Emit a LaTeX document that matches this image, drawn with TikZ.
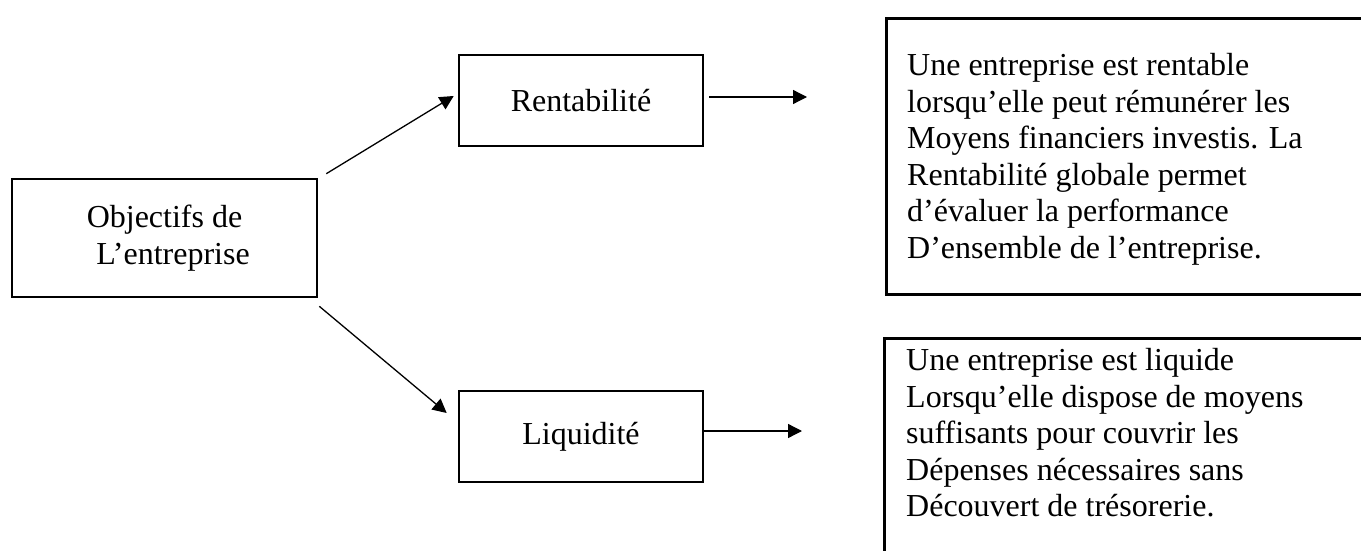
\documentclass[tikz,border=0pt]{standalone}
\usepackage{fontspec}
\setmainfont{Liberation Serif}
\usetikzlibrary{arrows.meta}
\begin{document}
\begin{tikzpicture}[x=1pt,y=-1pt,
  box/.style={draw, line width=2.6pt, rectangle, inner sep=0pt, align=center,
    font=\fontsize{32}{36.6}\selectfont},
  bigbox/.style={draw, line width=2.6pt, rectangle, inner sep=0pt},
  para/.style={align=left, inner sep=0pt, anchor=north west,
    font=\fontsize{32}{36.6}\selectfont},
  arr/.style={line width=1.3pt, -{Triangle[length=14pt,width=14pt]}}]
\useasboundingbox (0,0) rectangle (1361,551);
\clip (0,0) rectangle (1361,551);
\fill[white] (0,0) rectangle (1361,551);

\node[box, minimum width=305pt, minimum height=118pt] (obj) at (164.5,238)
  {Objectifs de\\\hspace*{17pt}L’entreprise};
\node[box, minimum width=244pt, minimum height=91pt] (rent) at (581,100.5) {Rentabilité};
\node[box, minimum width=244pt, minimum height=91pt] (liq) at (581,436.5) {Liquidité};

\node[bigbox, anchor=north west, minimum width=500pt, minimum height=276pt] (b1) at (885,17) {};
\node[bigbox, anchor=north west, minimum width=500pt, minimum height=250pt] (b2) at (883,337) {};

\node[para] (t1) at (907,53) {Une entreprise est rentable\\
lorsqu’elle peut rémunérer les\\
Moyens financiers investis. La\\
Rentabilité globale permet\\
d’évaluer la performance\\
D’ensemble de l’entreprise.};

\node[para] (t2) at (906,348) {Une entreprise est liquide\\
Lorsqu’elle dispose de moyens\\
suffisants pour couvrir les\\
Dépenses nécessaires sans\\
Découvert de trésorerie.};

\coordinate (r1e) at (807,97);
\coordinate (r2e) at (802,431);

\draw[arr] ([xshift=8pt,yshift=4pt]obj.north east) -- ([xshift=-4pt,yshift=4.5pt]rent.west);
\draw[arr] ([xshift=1pt,yshift=-8pt]obj.south east) -- ([xshift=-11pt,yshift=23.5pt]liq.west);
\draw[arr] ([xshift=5pt,yshift=3.5pt]rent.east) -- (r1e);
\draw[arr] ([yshift=5.5pt]liq.east) -- (r2e);
\end{tikzpicture}
\end{document}
